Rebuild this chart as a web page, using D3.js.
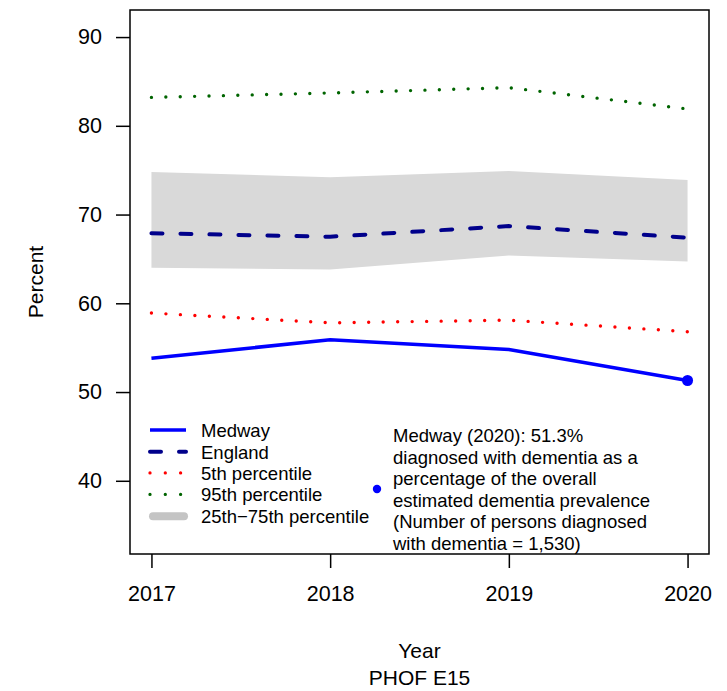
<!DOCTYPE html>
<html><head><meta charset="utf-8">
<script src="https://cdn.jsdelivr.net/npm/d3@7"></script>
<style>body{margin:0;background:#fff}svg{display:block}text{font-family:"Liberation Sans",Arial,sans-serif;fill:#000}</style>
</head><body><svg id="c" width="727" height="691"></svg>
<script>
const years = [2017, 2018, 2019, 2020];
const medway = [53.8, 55.9, 54.8, 51.3];
const england = [67.9, 67.5, 68.7, 67.4];
const p5 = [58.9, 57.8, 58.1, 56.8];
const p95 = [83.2, 83.7, 84.3, 81.9];
const p25 = [64.0, 63.8, 65.4, 64.7];
const p75 = [74.8, 74.2, 74.9, 73.9];
const yTicks = [40, 50, 60, 70, 80, 90];
const legendLabels = ["Medway", "England", "5th percentile", "95th percentile", "25th\u221275th percentile"];
const noteLines = ["Medway (2020): 51.3%", "diagnosed with dementia as a", "percentage of the overall", "estimated dementia prevalence", "(Number of persons diagnosed", "with dementia = 1,530)"];

const svg = d3.select("#c");
const L = 130, R = 709, T = 10, B = 554;
const x = d3.scaleLinear().domain([2016.88, 2020.12]).range([L, R]);
const y = d3.scaleLinear().domain([31.75, 93.05]).range([B, T]);

const idx = years.map((d, i) => i);
// band
svg.append("path").datum(idx)
  .attr("d", d3.area().x(i => x(years[i])).y0(i => y(p25[i])).y1(i => y(p75[i])))
  .attr("fill", "#d9d9d9");

const line = arr => d3.line().x(i => x(years[i])).y(i => y(arr[i]))(idx);
svg.append("path").attr("d", line(p95)).attr("fill", "none").attr("stroke", "#006400")
  .attr("stroke-width", 3.4).attr("stroke-linecap", "round").attr("stroke-dasharray", "0,14.4");
svg.append("path").attr("d", line(p5)).attr("fill", "none").attr("stroke", "#ff0000")
  .attr("stroke-width", 3.4).attr("stroke-linecap", "round").attr("stroke-dasharray", "0,14.5");
svg.append("path").attr("d", line(england)).attr("fill", "none").attr("stroke", "#00008b")
  .attr("stroke-width", 4).attr("stroke-linecap", "round").attr("stroke-dasharray", "11,18");
svg.append("path").attr("d", line(medway)).attr("fill", "none").attr("stroke", "#0000ff")
  .attr("stroke-width", 3.5);
svg.append("circle").attr("cx", x(years[3])).attr("cy", y(medway[3])).attr("r", 5.5).attr("fill", "#0000ff");

// frame
svg.append("rect").attr("x", L).attr("y", T).attr("width", R - L).attr("height", B - T)
  .attr("fill", "none").attr("stroke", "#000").attr("stroke-width", 1.5);

// axes
const yAxis = d3.axisLeft(y).tickValues(yTicks).tickSize(14).tickPadding(14).tickFormat(d3.format("d"));
const gy = svg.append("g").attr("transform", `translate(${L},0)`).call(yAxis);
gy.select(".domain").remove();
gy.selectAll("line").attr("stroke", "#000").attr("stroke-width", 1.5);
gy.selectAll("text").attr("font-size", 21.5).attr("font-family", "Liberation Sans, Arial, sans-serif");

const xAxis = d3.axisBottom(x).tickValues(years).tickSize(14).tickPadding(18).tickFormat(d3.format("d"));
const gx = svg.append("g").attr("transform", `translate(0,${B})`).call(xAxis);
gx.select(".domain").remove();
gx.selectAll("line").attr("stroke", "#000").attr("stroke-width", 1.5);
gx.selectAll("text").attr("font-size", 21.5).attr("font-family", "Liberation Sans, Arial, sans-serif");

// titles
svg.append("text").attr("x", (L + R) / 2).attr("y", 658).attr("text-anchor", "middle").attr("font-size", 21).text("Year");
svg.append("text").attr("x", (L + R) / 2).attr("y", 685).attr("text-anchor", "middle").attr("font-size", 21).text("PHOF E15");
svg.append("text").attr("transform", `translate(43,${(T + B) / 2}) rotate(-90)`).attr("text-anchor", "middle").attr("font-size", 21).text("Percent");

// legend
const legY = [430, 451.7, 472.9, 494.4, 516.3];
const lg = svg.append("g");
const sample = (i) => lg.append("line").attr("x1", 150).attr("x2", 186).attr("y1", legY[i]).attr("y2", legY[i]);
sample(0).attr("stroke", "#0000ff").attr("stroke-width", 3.5);
sample(1).attr("stroke", "#00008b").attr("stroke-width", 4).attr("stroke-linecap", "round").attr("stroke-dasharray", "11,18");
sample(2).attr("stroke", "#ff0000").attr("stroke-width", 3.3).attr("stroke-linecap", "round").attr("stroke-dasharray", "0,15.3");
sample(3).attr("stroke", "#006400").attr("stroke-width", 3.3).attr("stroke-linecap", "round").attr("stroke-dasharray", "0,15.3");
sample(4).attr("x1", 153).attr("x2", 184).attr("stroke", "#c4c4c4").attr("stroke-width", 8).attr("stroke-linecap", "round");
legendLabels.forEach((t, i) => {
  lg.append("text").attr("x", 201).attr("y", legY[i] + 7).attr("font-size", 18.5).text(t);
});

// note
svg.append("circle").attr("cx", 377).attr("cy", 489).attr("r", 4.2).attr("fill", "#0000ff");
noteLines.forEach((t, i) => {
  svg.append("text").attr("x", 393).attr("y", 442 + i * 21.6).attr("font-size", 18.5).text(t);
});
</script></body></html>
